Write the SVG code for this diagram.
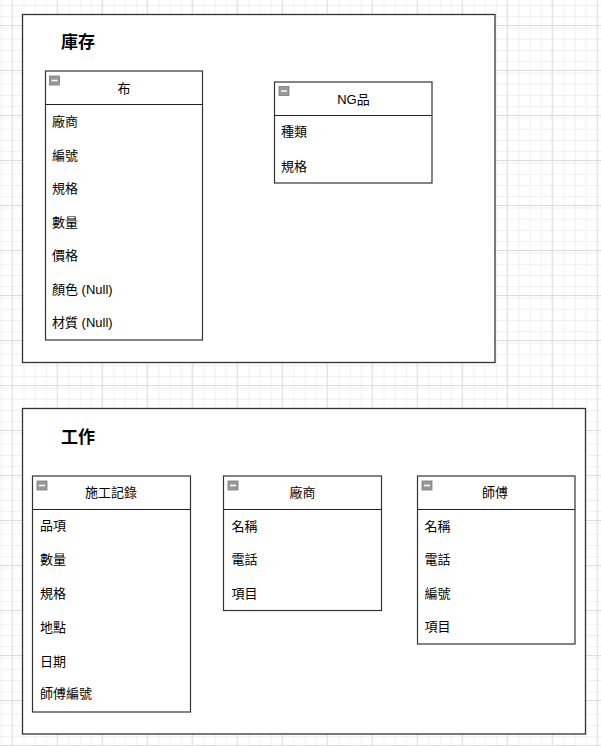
<svg xmlns="http://www.w3.org/2000/svg" width="601" height="746" viewBox="0 0 601 746">
<defs>
<pattern id="minor" x="11.7" y="25" width="11.25" height="11.25" patternUnits="userSpaceOnUse">
<path d="M0 0.5H11.25M0.5 0V11.25" fill="none" stroke="#efefef" stroke-width="1"/>
</pattern>
<pattern id="major" x="11.7" y="25" width="45" height="45" patternUnits="userSpaceOnUse">
<rect width="45" height="45" fill="url(#minor)"/>
<path d="M0 0.5H45M0.5 0V45" fill="none" stroke="#dcdcdc" stroke-width="1"/>
</pattern>
<g id="icon">
<rect x="0" y="0" width="10" height="9" fill="#9a9a9a" stroke="#7a7a7a" stroke-width="0.8"/>
<line x1="2" y1="4.5" x2="8" y2="4.5" stroke="#fff" stroke-width="1.5"/>
</g>
</defs>
<style>
.container{fill:#fff;stroke:#333;stroke-width:1.3}
.tbl{fill:#fff;stroke:#333;stroke-width:1.2}
.sep{stroke:#222;stroke-width:1.2}
.title{font-family:"Noto Sans CJK TC","Noto Sans CJK SC",sans-serif;font-size:17px;font-weight:bold;fill:#000}
.head{font-family:"Liberation Sans","Noto Sans CJK TC",sans-serif;font-size:13px;fill:#000;text-anchor:middle;dominant-baseline:central}
.row{font-family:"Liberation Sans","Noto Sans CJK TC",sans-serif;font-size:13px;fill:#000;dominant-baseline:central}
</style>
<rect width="601" height="746" fill="#fff"/>
<rect width="601" height="746" fill="url(#major)"/>

<g id="container-kucun">
<rect class="container" x="22.5" y="14.5" width="472.5" height="348"/>
<text class="title" x="61" y="48">庫存</text>
</g>
<g id="container-gongzuo">
<rect class="container" x="22.5" y="408.5" width="563" height="325.5"/>
<text class="title" x="61" y="443">工作</text>
</g>

<g id="table-bu">
<rect class="tbl" x="45.5" y="71" width="157" height="269"/>
<line class="sep" x1="45.5" y1="104.5" x2="202.5" y2="104.5"/>
<use href="#icon" x="49.5" y="76"/>
<text class="head" x="124" y="88">布</text>
<text class="row" x="52" y="121.5">廠商</text>
<text class="row" x="52" y="155">編號</text>
<text class="row" x="52" y="188.5">規格</text>
<text class="row" x="52" y="222">數量</text>
<text class="row" x="52" y="255.5">價格</text>
<text class="row" x="52" y="289">顏色 (Null)</text>
<text class="row" x="52" y="322.5">材質 (Null)</text>
</g>

<g id="table-ng">
<rect class="tbl" x="274.5" y="82" width="157.5" height="101"/>
<line class="sep" x1="274.5" y1="115.5" x2="432" y2="115.5"/>
<use href="#icon" x="279" y="86.5"/>
<text class="head" x="353.5" y="99">NG品</text>
<text class="row" x="281" y="131.5">種類</text>
<text class="row" x="281" y="166">規格</text>
</g>

<g id="table-shigong">
<rect class="tbl" x="32.5" y="476" width="158" height="236"/>
<line class="sep" x1="32.5" y1="509.5" x2="190.5" y2="509.5"/>
<use href="#icon" x="37" y="481"/>
<text class="head" x="111" y="492">施工記錄</text>
<text class="row" x="40" y="525.5">品項</text>
<text class="row" x="40" y="559">數量</text>
<text class="row" x="40" y="593">規格</text>
<text class="row" x="40" y="627">地點</text>
<text class="row" x="40" y="661">日期</text>
<text class="row" x="40" y="693.5">師傅編號</text>
</g>

<g id="table-changshang">
<rect class="tbl" x="223.5" y="476" width="158" height="134.5"/>
<line class="sep" x1="223.5" y1="509.5" x2="381.5" y2="509.5"/>
<use href="#icon" x="228" y="481"/>
<text class="head" x="302.5" y="492">廠商</text>
<text class="row" x="231.5" y="526.5">名稱</text>
<text class="row" x="231.5" y="559.5">電話</text>
<text class="row" x="231.5" y="593">項目</text>
</g>

<g id="table-shifu">
<rect class="tbl" x="417.5" y="476" width="157.5" height="168"/>
<line class="sep" x1="417.5" y1="509.5" x2="575" y2="509.5"/>
<use href="#icon" x="422" y="481"/>
<text class="head" x="495" y="492">師傅</text>
<text class="row" x="424.5" y="526.5">名稱</text>
<text class="row" x="424.5" y="559.5">電話</text>
<text class="row" x="424.5" y="593">編號</text>
<text class="row" x="424.5" y="626.5">項目</text>
</g>

<g id="connectors"></g>
</svg>
